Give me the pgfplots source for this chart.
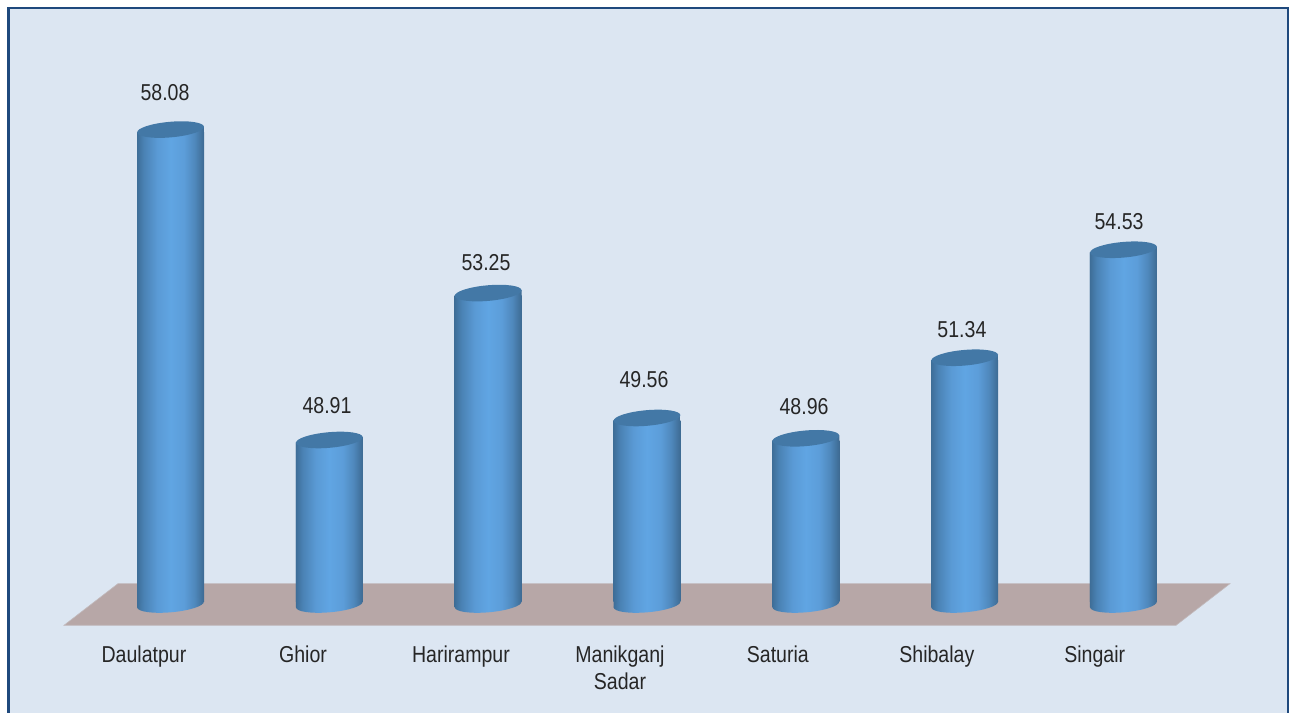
\documentclass[border=0pt]{standalone}
\usepackage{fontspec}
\setmainfont[FakeStretch=0.85]{Liberation Sans}
\usepackage{pgfplots}
\usepackage{pgfplotstable}
\pgfplotsset{compat=1.18}
\usetikzlibrary{shapes.geometric}
\definecolor{bg}{HTML}{DCE6F2}
\definecolor{frame}{HTML}{1F497D}
\definecolor{floorc}{HTML}{B7A7A7}
\definecolor{txt}{HTML}{262626}
\definecolor{capc}{HTML}{4378A6}
\definecolor{c1}{HTML}{3E6E98}
\definecolor{c2}{HTML}{4A82B4}
\definecolor{c3}{HTML}{5A9AD5}
\definecolor{c4}{HTML}{60A5E3}
\definecolor{c5}{HTML}{5C9DD9}
\definecolor{c6}{HTML}{4F88BC}
\definecolor{c7}{HTML}{3D6A92}
\pgfdeclarehorizontalshading{cyl}{100bp}{color(0bp)=(c1); color(25bp)=(c1); color(30bp)=(c2); color(40bp)=(c3); color(50bp)=(c4); color(60bp)=(c5); color(68bp)=(c6); color(75bp)=(c7); color(100bp)=(c7)}
\pgfplotstableread{
x value
0 58.08
1 48.91
2 53.25
3 49.56
4 48.96
5 51.34
6 54.53
}\barsdata
\pgfplotstableread{
x y lab
-0.0346 15.036 58.08
0.9853 5.790 48.91
1.9864 10.015 53.25
2.981 6.558 49.56
3.989 5.760 48.96
4.983 8.035 51.34
5.972 11.226 54.53
}\labeldata
\pgfplotsset{cylbar/.style={ybar, bar width=67pt, bar shift=0pt, draw=none, shading=cyl},
  cylside/.style={draw=none, shading=cyl, mark=none}}
\begin{document}
\begin{tikzpicture}
\useasboundingbox (0,0) rectangle (1289pt,712pt);
\begin{axis}[
  at={(0,0)}, anchor=south west,
  scale only axis, width=1289pt, height=712pt,
  xmin=-1.0735, xmax=7.0421, ymin=-3.2496, ymax=17.784,
  axis on top,
  axis line style={draw=none},
  major tick length=0pt,
  ytick=\empty,
  xtick={-0.1668,0.8342,1.829,2.8296,3.824,4.825,5.819},
  xticklabels={Daulatpur,Ghior,Harirampur,{Manikganj\\Sadar},Saturia,Shibalay,Singair},
  x tick label style={align=center, yshift=70pt, text=txt, font=\fontsize{23}{27}\selectfont},
]
\addplot[draw=frame, fill=bg, line width=2.6pt] coordinates {(-1.02,-5) (-1.02,17.546) (7.0358,17.546) (7.0358,-5)} -- cycle;
\addplot[draw=floorc!70!bg, fill=floorc, line width=0.6pt] coordinates {(-0.6705,-0.688) (-0.3305,0.543) (6.6707,0.543) (6.3309,-0.688)} -- cycle;
% bottom ellipses
\addplot[only marks, mark=none, nodes near coords={},
  every node near coord/.style={anchor=center, shape=ellipse, shading=cyl, minimum width=67pt, minimum height=15.6pt, inner sep=0pt, rotate=5, draw=none}]
  table[x=x, y expr=-0.0739] {\barsdata};
% cylinder bodies, one plot for each so that each has its own shading
\addplot[cylbar, restrict x to domain=-0.2:0.2] table[x=x, y expr=\thisrow{value}-44.198] {\barsdata};
\addplot[cylbar, restrict x to domain=0.8:1.2] table[x=x, y expr=\thisrow{value}-44.198] {\barsdata};
\addplot[cylbar, restrict x to domain=1.8:2.2] table[x=x, y expr=\thisrow{value}-44.198] {\barsdata};
\addplot[cylbar, restrict x to domain=2.8:3.2] table[x=x, y expr=\thisrow{value}-44.198] {\barsdata};
\addplot[cylbar, restrict x to domain=3.8:4.2] table[x=x, y expr=\thisrow{value}-44.198] {\barsdata};
\addplot[cylbar, restrict x to domain=4.8:5.2] table[x=x, y expr=\thisrow{value}-44.198] {\barsdata};
\addplot[cylbar, restrict x to domain=5.8:6.2] table[x=x, y expr=\thisrow{value}-44.198] {\barsdata};
% the tilt of the cylinder sides, so that they meet the tilted ellipses
\addplot[cylside] coordinates {(-0.2109,-0.1602) (0.2109,0.0124) (0.2109,14.042) (-0.2109,13.870)} -- cycle;
\addplot[cylside] coordinates {(0.7891,-0.1602) (1.2109,0.0124) (1.2109,4.872) (0.7891,4.700)} -- cycle;
\addplot[cylside] coordinates {(1.7891,-0.1602) (2.2109,0.0124) (2.2109,9.212) (1.7891,9.040)} -- cycle;
\addplot[cylside] coordinates {(2.7891,-0.1602) (3.2109,0.0124) (3.2109,5.522) (2.7891,5.350)} -- cycle;
\addplot[cylside] coordinates {(3.7891,-0.1602) (4.2109,0.0124) (4.2109,4.922) (3.7891,4.750)} -- cycle;
\addplot[cylside] coordinates {(4.7891,-0.1602) (5.2109,0.0124) (5.2109,7.302) (4.7891,7.130)} -- cycle;
\addplot[cylside] coordinates {(5.7891,-0.1602) (6.2109,0.0124) (6.2109,10.492) (5.7891,10.320)} -- cycle;
% top ellipses
\addplot[only marks, mark=none, nodes near coords={},
  every node near coord/.style={anchor=center, shape=ellipse, fill=capc, minimum width=67pt, minimum height=15.6pt, inner sep=0pt, rotate=5, draw=none}]
  table[x=x, y expr=\thisrow{value}-44.124] {\barsdata};
% value labels
\addplot[only marks, mark=none, point meta=explicit symbolic, nodes near coords,
  every node near coord/.style={anchor=center, text=txt, font=\fontsize{23}{27}\selectfont}]
  table[x=x, y=y, meta=lab] {\labeldata};
\end{axis}
\end{tikzpicture}
\end{document}
